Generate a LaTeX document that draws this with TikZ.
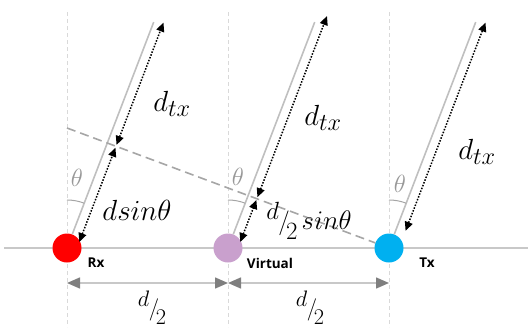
\documentclass[tikz,border=0pt]{standalone}
\usepackage{fontspec}
\usetikzlibrary{arrows.meta,calc}
\newfontfamily\labelfont{Open Sans}
\definecolor{gridgray}{HTML}{D9D9D9}
\definecolor{basegray}{HTML}{C8C8C8}
\definecolor{raygray}{HTML}{BFBFBF}
\definecolor{dashgray}{HTML}{A6A6A6}
\definecolor{tipgray}{HTML}{7F7F7F}
\definecolor{virtpurple}{HTML}{C9A0CD}
\definecolor{txblue}{HTML}{00B0F0}
\newcommand{\halfd}{{\fontsize{20.74}{22}\selectfont\raisebox{8pt}{$d$}\kern-0.5pt$/$\kern-3pt\raisebox{-9pt}{$2$}}}
\newcommand{\widelbl}[1]{\scalebox{1.17}{#1}}

\begin{document}
\begin{tikzpicture}[x=1pt,y=1pt,
    src/.style={circle,minimum size=29pt,inner sep=0pt},
    mathlbl/.style={font=\fontsize{24.88}{28}\selectfont,inner sep=1pt},
    anglbl/.style={font=\fontsize{24.88}{28}\selectfont,text=tipgray!80,inner sep=1pt},
    srclbl/.style={font=\labelfont\bfseries\fontsize{13.5}{15}\selectfont}]
    \useasboundingbox (0,0) rectangle (528,-327);

    % grid and base line
    \coordinate (rxup) at (67,-12);
    \coordinate (rxdown) at (67,-327);
    \coordinate (virtup) at (228,-12);
    \coordinate (virtdown) at (228,-327);
    \coordinate (txup) at (389,-12);
    \coordinate (txdown) at (389,-327);
    \coordinate (base0) at (4,-248);
    \coordinate (base1) at (528,-248);
    \path[gridgray,line width=1pt,dash pattern=on 4pt off 3pt]
    (rxup) edge (rxdown)
    (virtup) edge (virtdown)
    (txup) edge (txdown);
    \path (base0) [basegray,line width=1.5pt] edge (base1);

    \node (rx) [src,fill=red] at (67,-248) {};
    \node (virt) [src,fill=virtpurple] at (228,-248) {};
    \node (tx) [src,fill=txblue] at (389,-248) {};

    \node (rxname) [srclbl] at (96,-263) {Rx};
    \node (virtname) [srclbl] at (270,-263) {Virtual};
    \node (txname) [srclbl] at (427,-263) {Tx};

    % rays
    \coordinate (rxend) at ($(rx)+(69:242)$);
    \coordinate (virtend) at ($(virt)+(69:242)$);
    \coordinate (txend) at ($(tx)+(69:242)$);
    \coordinate (wavefront) at (67,-128);
    \path[raygray,line width=1.6pt]
    (rx) edge (rxend)
    (virt) edge (virtend)
    (tx) edge (txend);
    \path (wavefront) [dashgray,line width=1.6pt,dash pattern=on 9pt off 5pt] edge (tx);

    % path differences
    \coordinate (rxa) at ($(rx)+(69:245)+(-21:9.3)$);
    \coordinate (rxm) at ($(rx)+(69:114)+(-21:9.3)$);
    \coordinate (rxn) at ($(rx)+(69:111)+(-21:9.3)$);
    \coordinate (rxb) at ($(rx)+(69:10)+(-21:9.3)$);
    \coordinate (virta) at ($(virt)+(69:252)+(-21:9.3)$);
    \coordinate (virtm) at ($(virt)+(69:58)+(-21:9.3)$);
    \coordinate (virtn) at ($(virt)+(69:55)+(-21:9.3)$);
    \coordinate (virtb) at ($(virt)+(69:10)+(-21:9.3)$);
    \coordinate (txa) at ($(tx)+(69:245)+(-21:9.3)$);
    \coordinate (txb) at ($(tx)+(69:22)+(-21:9.3)$);
    \path[{Triangle[length=9pt,width=8pt]}-{Triangle[length=9pt,width=8pt]},black,line width=1.5pt,dash pattern=on 1.5pt off 1.5pt]
    (rxm) edge (rxa)
    (rxb) edge (rxn)
    (virtm) edge (virta)
    (virtb) edge (virtn)
    (txb) edge (txa);

    % angles
    \draw[tipgray!70,line width=1pt] ($(rx)+(90:48)$) arc (90:69:48);
    \draw[tipgray!70,line width=1pt] ($(virt)+(90:48)$) arc (90:69:48);
    \draw[tipgray!70,line width=1pt] ($(tx)+(90:48)$) arc (90:69:48);
    \node (rxtheta) [anglbl] at (77,-178) {$\theta$};
    \node (virttheta) [anglbl] at (238,-177) {$\theta$};
    \node (txtheta) [anglbl] at (400,-184) {$\theta$};

    \node (rxdtx) [mathlbl] at (172,-104) {\widelbl{$d_{tx}$}};
    \node (virtdtx) [mathlbl] at (323,-118) {\widelbl{$d_{tx}$}};
    \node (txdtx) [mathlbl] at (477,-152) {\widelbl{$d_{tx}$}};
    \node (rxdiff) [mathlbl] at (137,-210) {\widelbl{$d sin\theta$}};
    \node (virtdiff) [mathlbl] at (309,-221) {\scalebox{1.2}{\halfd}\,\scalebox{1.08}{$sin\theta$}};

    % spacing
    \coordinate (dim1) at (67,-283);
    \coordinate (dim2) at (228,-283);
    \coordinate (dim3) at (389,-283);
    \path[{Triangle[length=13pt,width=11pt,color=tipgray]}-{Triangle[length=13pt,width=11pt,color=tipgray]},basegray,line width=1.5pt]
    (dim1) edge (dim2)
    (dim2) edge (dim3);
    \node (half1) [mathlbl,inner sep=0pt] at (152,-308) {\scalebox{1.08}{\halfd}};
    \node (half2) [mathlbl,inner sep=0pt] at (310,-308) {\scalebox{1.08}{\halfd}};
\end{tikzpicture}
\end{document}
